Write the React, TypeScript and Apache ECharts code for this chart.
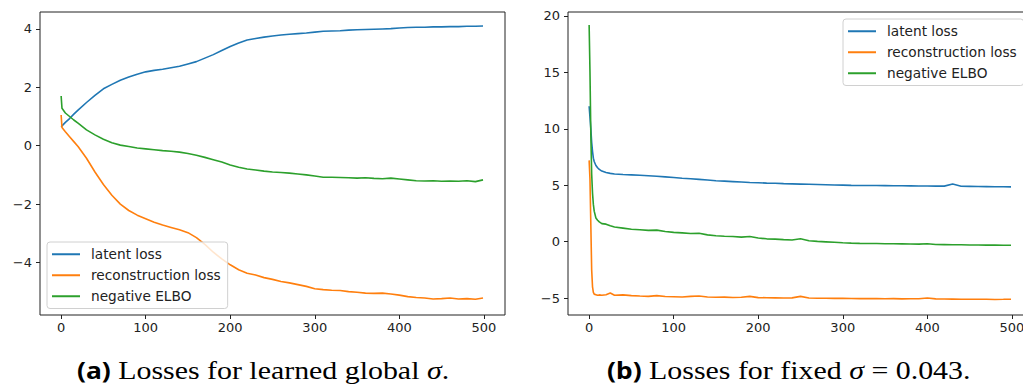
import React, { useEffect, useRef } from "react";
import * as echarts from "echarts";

const SERIES_NAMES = ["latent loss", "reconstruction loss", "negative ELBO"];
const COLORS = ["#1f77b4", "#ff7f0e", "#2ca02c"];
const X_TICKS = [0, 100, 200, 300, 400, 500];
const LEFT_Y_TICKS = [-4, -2, 0, 2, 4];
const RIGHT_Y_TICKS = [-5, 0, 5, 10, 15, 20];

// (a) learned global sigma
const L_X = [0, 1, 5, 10, 15, 20, 30, 40, 50, 60, 70, 80, 90, 100, 110, 120, 130, 140, 150, 160, 170, 180, 190, 200, 210, 220, 230, 240, 250, 260, 270, 280, 290, 300, 310, 320, 330, 340, 350, 360, 370, 380, 390, 400, 410, 420, 430, 440, 450, 460, 470, 480, 490, 499];
const L_LATENT = [0.65, 0.68, 0.8, 0.93, 1.08, 1.22, 1.48, 1.72, 1.95, 2.1, 2.24, 2.35, 2.45, 2.53, 2.58, 2.62, 2.67, 2.72, 2.8, 2.88, 3.0, 3.12, 3.26, 3.4, 3.52, 3.62, 3.67, 3.72, 3.76, 3.79, 3.82, 3.84, 3.86, 3.89, 3.92, 3.93, 3.94, 3.96, 3.97, 3.98, 3.99, 4.0, 4.01, 4.03, 4.05, 4.06, 4.06, 4.07, 4.07, 4.08, 4.08, 4.09, 4.09, 4.1];
const L_RECON = [1.05, 0.62, 0.48, 0.31, 0.14, -0.03, -0.43, -0.9, -1.33, -1.7, -2.0, -2.22, -2.38, -2.5, -2.62, -2.72, -2.8, -2.88, -2.98, -3.15, -3.38, -3.65, -3.88, -4.08, -4.25, -4.37, -4.43, -4.52, -4.58, -4.65, -4.7, -4.76, -4.82, -4.9, -4.93, -4.95, -4.96, -5.0, -5.02, -5.05, -5.06, -5.05, -5.08, -5.12, -5.17, -5.2, -5.22, -5.25, -5.24, -5.22, -5.25, -5.24, -5.26, -5.22];
const L_ELBO = [1.7, 1.28, 1.12, 1.0, 0.88, 0.77, 0.54, 0.37, 0.22, 0.1, 0.02, -0.03, -0.08, -0.11, -0.14, -0.17, -0.19, -0.22, -0.27, -0.33, -0.4, -0.48, -0.56, -0.66, -0.74, -0.8, -0.83, -0.87, -0.9, -0.92, -0.94, -0.97, -1.0, -1.04, -1.08, -1.08, -1.09, -1.1, -1.11, -1.1, -1.12, -1.13, -1.11, -1.14, -1.17, -1.2, -1.21, -1.2, -1.22, -1.21, -1.22, -1.2, -1.23, -1.17];

// (b) fixed sigma
const R_X = [0, 1, 2, 3, 4, 5, 6, 8, 10, 12, 15, 20, 25, 30, 40, 50, 60, 70, 80, 90, 100, 110, 120, 130, 140, 150, 160, 170, 180, 190, 200, 210, 220, 230, 240, 250, 260, 270, 280, 290, 300, 310, 320, 330, 340, 350, 360, 370, 380, 390, 400, 410, 420, 430, 440, 450, 460, 470, 480, 490, 499];
const R_LATENT = [12.0, 11.0, 10.0, 8.8, 8.0, 7.4, 7.1, 6.75, 6.55, 6.4, 6.25, 6.12, 6.05, 6.0, 5.95, 5.92, 5.88, 5.84, 5.8, 5.74, 5.68, 5.62, 5.58, 5.52, 5.46, 5.4, 5.36, 5.32, 5.28, 5.24, 5.22, 5.19, 5.17, 5.14, 5.12, 5.1, 5.08, 5.06, 5.04, 5.02, 5.01, 4.99, 4.98, 4.97, 4.97, 4.96, 4.95, 4.95, 4.94, 4.93, 4.93, 4.92, 4.92, 5.1, 4.91, 4.9, 4.89, 4.88, 4.87, 4.86, 4.85];
const R_RECON = [7.2, 5.5, 1.5, -2.5, -4.0, -4.5, -4.65, -4.7, -4.75, -4.72, -4.75, -4.7, -4.55, -4.75, -4.72, -4.78, -4.82, -4.85, -4.78, -4.86, -4.88, -4.9, -4.85, -4.82, -4.9, -4.93, -4.92, -4.95, -4.93, -4.85, -4.96, -4.97, -4.98, -5.0, -4.98, -4.85, -5.0, -5.01, -5.02, -5.03, -5.02, -5.04, -5.05, -5.04, -5.05, -5.06, -5.05, -5.07, -5.06, -5.06, -5.0, -5.07, -5.08, -5.09, -5.1, -5.1, -5.11, -5.1, -5.12, -5.11, -5.1];
const R_ELBO = [19.2, 15.0, 9.5, 6.0, 4.3, 3.3, 2.7, 2.1, 1.9, 1.75, 1.6, 1.55, 1.4, 1.3, 1.2, 1.1, 1.05, 1.0, 1.02, 0.9, 0.82, 0.78, 0.72, 0.75, 0.6, 0.52, 0.48, 0.45, 0.4, 0.45, 0.32, 0.25, 0.22, 0.18, 0.15, 0.25, 0.08, 0.02, -0.02, -0.06, -0.1, -0.13, -0.15, -0.16, -0.17, -0.18, -0.19, -0.2, -0.21, -0.22, -0.18, -0.25, -0.26, -0.27, -0.28, -0.3, -0.3, -0.31, -0.31, -0.32, -0.32];

const CAPTION_A = "Losses for learned global ";
const CAPTION_B = "Losses for fixed ";

const TICK_COLOR = "#222";
const FONT = "DejaVu Sans";

function pairs(xs: number[], ys: number[]) {
  return xs.map((x, i) => [x, ys[i]]);
}

function xAxisCfg(gridIndex: number) {
  return {
    type: "value",
    gridIndex,
    position: "bottom",
    min: -25,
    max: 525,
    axisLine: { show: false, onZero: false },
    splitLine: { show: false },
    axisTick: { show: true, inside: false, length: 4, customValues: X_TICKS, lineStyle: { color: TICK_COLOR, width: 1 } },
    axisLabel: { customValues: X_TICKS, color: TICK_COLOR, fontFamily: FONT, fontSize: 13, margin: 6 },
  };
}

function yAxisCfg(gridIndex: number, min: number, max: number, ticks: number[]) {
  return {
    type: "value",
    gridIndex,
    position: "left",
    min,
    max,
    axisLine: { show: false, onZero: false },
    splitLine: { show: false },
    axisTick: { show: true, inside: false, length: 4, customValues: ticks, lineStyle: { color: TICK_COLOR, width: 1 } },
    axisLabel: {
      customValues: ticks,
      color: TICK_COLOR,
      fontFamily: FONT,
      fontSize: 13,
      margin: 8,
      formatter: (v: number) => (v < 0 ? "\u2212" + Math.abs(v) : String(v)),
    },
  };
}

function legendCfg(left: number, top: number) {
  return {
    orient: "vertical",
    left,
    top,
    data: SERIES_NAMES,
    icon: "rect",
    itemWidth: 28,
    itemHeight: 2,
    itemGap: 6.5,
    padding: [5, 7, 5, 5],
    backgroundColor: "rgba(255,255,255,0.8)",
    borderColor: "#d0d0d0",
    borderWidth: 1,
    borderRadius: 3,
    textStyle: { fontFamily: FONT, fontSize: 13.7, color: "#222", lineHeight: 14.5, padding: [0, 0, 0, 6] },
  };
}

function caption(label: string, body: string, tail: string, x: number, sx: number) {
  return {
    type: "text",
    x,
    y: 370,
    scaleX: sx,
    style: {
      text: "{b|" + label + "} " + body + "{s|\u03c3}" + tail,
      font: "26px 'Liberation Serif'",
      fill: "#000",
      verticalAlign: "middle",
      align: "left",
      rich: {
        b: { fontFamily: "Noto Sans", fontWeight: "bold", fontSize: 23, fill: "#000" },
        s: { fontFamily: "Liberation Serif", fontStyle: "italic", fontSize: 26, fill: "#000" },
      },
    },
  };
}

export default function App() {
  const ref = useRef<HTMLDivElement>(null);
  useEffect(() => {
    if (!ref.current) return;
    const chart = echarts.init(ref.current, null, { renderer: "svg" });
    const lineSeries = (name: string, color: string, idx: number, data: number[][]) => ({
      name,
      type: "line",
      xAxisIndex: idx,
      yAxisIndex: idx,
      data,
      showSymbol: false,
      symbol: "none",
      lineStyle: { color, width: 1.6 },
      itemStyle: { color },
    });
    chart.setOption({
      animation: false,
      backgroundColor: "#fff",
      grid: [
        { left: 40, top: 12, width: 465, height: 303, show: true, borderColor: "#222", borderWidth: 1, backgroundColor: "transparent" },
        { left: 568, top: 12, width: 465, height: 303, show: true, borderColor: "#222", borderWidth: 1, backgroundColor: "transparent" },
      ],
      xAxis: [xAxisCfg(0), xAxisCfg(1)],
      yAxis: [yAxisCfg(0, -5.8, 4.58, LEFT_Y_TICKS), yAxisCfg(1, -6.5, 20.35, RIGHT_Y_TICKS)],
      legend: [legendCfg(47, 242), legendCfg(843, 19)],
      graphic: [
        caption("(a)", CAPTION_A, ".", 77, 1.15),
        caption("(b)", CAPTION_B, " = 0.043.", 607, 1.15),
      ],
      series: [
        lineSeries(SERIES_NAMES[0], COLORS[0], 0, pairs(L_X, L_LATENT)),
        lineSeries(SERIES_NAMES[1], COLORS[1], 0, pairs(L_X, L_RECON)),
        lineSeries(SERIES_NAMES[2], COLORS[2], 0, pairs(L_X, L_ELBO)),
        lineSeries(SERIES_NAMES[0], COLORS[0], 1, pairs(R_X, R_LATENT)),
        lineSeries(SERIES_NAMES[1], COLORS[1], 1, pairs(R_X, R_RECON)),
        lineSeries(SERIES_NAMES[2], COLORS[2], 1, pairs(R_X, R_ELBO)),
      ],
    });
    return () => chart.dispose();
  }, []);
  return (
    <div style={{ position: "absolute", left: 0, top: 0, width: 1023, height: 390, overflow: "hidden", background: "#fff" }}>
      <div ref={ref} style={{ width: 1045, height: 390 }} />
    </div>
  );
}
